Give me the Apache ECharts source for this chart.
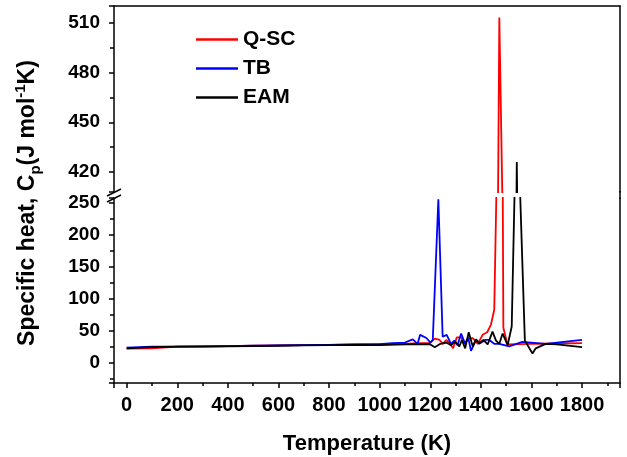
<!DOCTYPE html>
<html><head><meta charset="utf-8">
<script src="https://cdn.jsdelivr.net/npm/echarts@6/dist/echarts.min.js"></script>
<style>html,body{margin:0;padding:0;background:#fff}#c{width:627px;height:457px}</style>
</head><body><div id="c"></div>
<script>
const seriesNames = ['Q-SC', 'TB', 'EAM'];
const seriesColors = ['#ff0000', '#0000ff', '#000000'];
const qscT = [0,100,200,300,400,500,600,700,800,900,1000,1100,1150,1200,1218,1237,1250,1263,1275,1290,1305,1322,1335,1350,1368,1388,1407,1425,1440,1453,1473,1485,1489,1505,1550,1600,1700,1800];
const qscCp = [22.5,23,25.5,26,26.5,27,27.5,28,28.5,29,29.5,30,31,31.5,38,36,30,36,32,23,40,40,30,38,39,30,44,48,60,83,513,405,55,29,29.5,30,30.5,31];
const tbT = [0,100,200,300,400,500,600,700,800,900,1000,1050,1100,1131,1150,1160,1185,1200,1210,1232,1249,1265,1282,1295,1308,1322,1338,1350,1361,1381,1394,1417,1433,1453,1473,1512,1564,1656,1800];
const tbCp = [24,25.5,25.5,26,26.5,27,27.5,28,28.5,29,29.5,31,32,37,30,44,39,32,36,255,41,44,30,35,28,46,30,40,19,36,30,36,36,30,30,26,33,30,36];
const eamT = [0,100,200,300,400,500,600,700,800,900,1000,1100,1197,1218,1240,1263,1282,1299,1315,1325,1338,1352,1368,1381,1394,1410,1427,1446,1460,1473,1486,1506,1522,1542,1574,1604,1617,1656,1700,1800];
const eamCp = [23,25,25.5,25.5,26,26.5,27,27.5,28,28.5,28,29,29.7,24.6,30,32,28,33,26,36,23,48,26,37,31,36,29,49,35,30,46,28,57,426,35,15,23,30,29,25];
const xTitle = 'Temperature (K)';

const FONT = '"Liberation Sans", Arial, sans-serif';
const zip = (a, b) => a.map((t, i) => [t, b[i]]);
const allData = [zip(qscT, qscCp), zip(tbT, tbCp), zip(eamT, eamCp)];

const axLine = {show: true, onZero: false, lineStyle: {color: '#000', width: 1.5}};
const plainFmt = v => String(v);
const chart = echarts.init(document.getElementById('c'), null, {renderer: 'canvas'});

const series = [];
[0, 1].forEach(g => {
  allData.forEach((d, i) => {
    series.push({
      name: seriesNames[i], type: 'line', xAxisIndex: g, yAxisIndex: g * 2,
      data: d, showSymbol: false, symbol: 'none', clip: true,
      lineStyle: {color: seriesColors[i], width: 1.8}, itemStyle: {color: seriesColors[i]},
      animation: false
    });
  });
});

const tickLab = (fs, margin) => ({fontFamily: FONT, fontWeight: 'bold', fontSize: fs, color: '#000', margin: margin,
  showMinLabel: false, showMaxLabel: false, formatter: plainFmt});

chart.setOption({
  backgroundColor: '#fff',
  animation: false,
  grid: [
    {left: 114, right: 7, top: 6, height: 186},
    {left: 114, right: 7, top: 198, height: 185}
  ],
  legend: {
    data: seriesNames, orient: 'vertical', left: 196, top: 25, padding: 0,
    icon: 'rect', itemWidth: 42, itemHeight: 2.5, itemGap: 0,
    textStyle: {fontFamily: FONT, fontWeight: 'bold', fontSize: 21, color: '#000', lineHeight: 29}
  },
  xAxis: [
    {gridIndex: 0, type: 'value', position: 'top', min: -50, max: 1950, splitNumber: 10,
     axisLine: axLine, axisTick: {show: false}, axisLabel: {show: false}, splitLine: {show: false}},
    {gridIndex: 1, type: 'value', position: 'bottom', min: -50, max: 1950, splitNumber: 10,
     axisLine: axLine,
     axisTick: {show: true, inside: false, length: 5, lineStyle: {color: '#000', width: 1.5}},
     minorTick: {show: true, splitNumber: 2, length: 3, lineStyle: {color: '#000', width: 1.5}},
     axisLabel: tickLab(20, 12),
     splitLine: {show: false},
     name: xTitle, nameLocation: 'middle', nameGap: 50,
     nameTextStyle: {fontFamily: FONT, fontWeight: 'bold', fontSize: 22, color: '#000'}}
  ],
  yAxis: [
    {gridIndex: 0, type: 'value', position: 'left', min: 408, max: 520, splitNumber: 4,
     axisLine: axLine,
     axisTick: {show: true, length: 5, lineStyle: {color: '#000', width: 1.5}},
     minorTick: {show: true, splitNumber: 2, length: 4, lineStyle: {color: '#000', width: 1.5}},
     axisLabel: tickLab(19, 14),
     splitLine: {show: false}},
    {gridIndex: 0, type: 'value', position: 'right', min: 408, max: 520,
     axisLine: axLine, axisTick: {show: false}, axisLabel: {show: false}, splitLine: {show: false}},
    {gridIndex: 1, type: 'value', position: 'left', min: -31, max: 257, splitNumber: 5,
     axisLine: axLine,
     axisTick: {show: true, length: 5, lineStyle: {color: '#000', width: 1.5}},
     minorTick: {show: true, splitNumber: 2, length: 4, lineStyle: {color: '#000', width: 1.5}},
     axisLabel: tickLab(19, 14),
     splitLine: {show: false}},
    {gridIndex: 1, type: 'value', position: 'right', min: -31, max: 257,
     axisLine: axLine, axisTick: {show: false}, axisLabel: {show: false}, splitLine: {show: false}}
  ],
  graphic: [
    {type: 'line', shape: {x1: 620, y1: 191, x2: 620, y2: 199}, style: {stroke: '#000', lineWidth: 1.5}},
    {type: 'line', shape: {x1: 107, y1: 196, x2: 121, y2: 189}, style: {stroke: '#000', lineWidth: 1.5}},
    {type: 'line', shape: {x1: 107, y1: 202, x2: 121, y2: 195}, style: {stroke: '#000', lineWidth: 1.5}},
    {type: 'text', x: 28, y: 203, rotation: Math.PI / 2,
     style: {
       text: '{m|Specific heat, C}{sub|p}{m|(J mol}{sup|-1}{m|K)}',
       align: 'center', verticalAlign: 'middle', fill: '#000',
       rich: {
         m: {fontFamily: FONT, fontWeight: 'bold', fontSize: 23, fill: '#000', lineHeight: 30, verticalAlign: 'middle'},
         sub: {fontFamily: FONT, fontWeight: 'bold', fontSize: 15, fill: '#000', lineHeight: 30, verticalAlign: 'bottom', padding: [12, 0, 0, 0]},
         sup: {fontFamily: FONT, fontWeight: 'bold', fontSize: 15, fill: '#000', lineHeight: 30, verticalAlign: 'top', padding: [0, 0, 10, 0]}
       }
     }}
  ],
  series: series
});
</script></body></html>
